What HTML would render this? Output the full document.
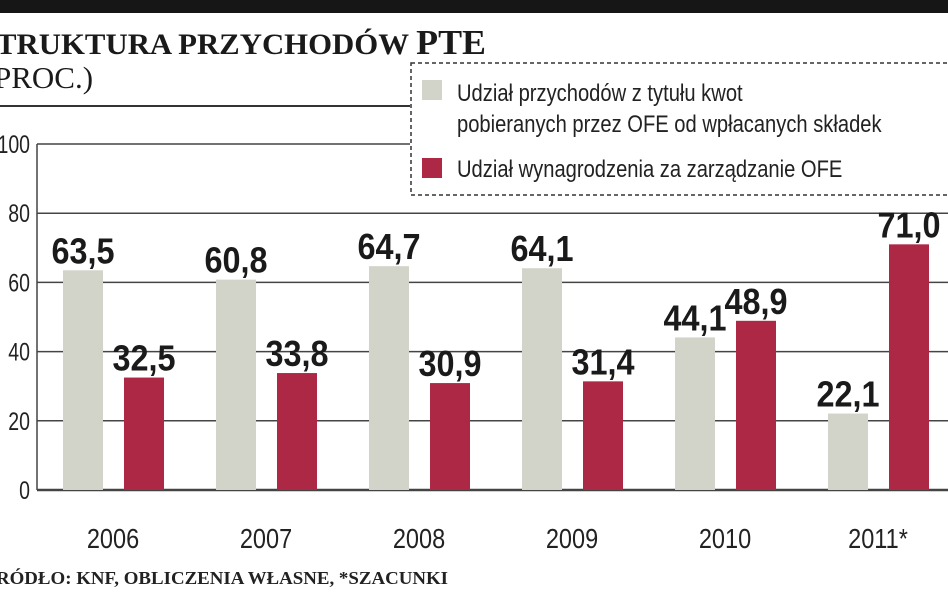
<!DOCTYPE html>
<html><head><meta charset="utf-8"><style>
body{margin:0;background:#fff;width:948px;height:593px;overflow:hidden;position:relative;font-family:"Liberation Sans",sans-serif}
</style></head><body>
<div style="position:absolute;left:0;top:0;width:948px;height:13px;background:#161616"></div>
<svg width="948" height="593" style="position:absolute;left:0;top:0" id="svg">
<text x="-4" y="54" font-family="Liberation Serif" font-weight="bold" font-size="30" fill="#1a1a1a" textLength="490" lengthAdjust="spacingAndGlyphs">TRUKTURA PRZYCHODÓW <tspan font-size="35">PTE</tspan></text>
<text x="-6" y="88" font-family="Liberation Serif" font-size="31" fill="#1a1a1a">PROC.)</text>
<line x1="0" y1="106" x2="410" y2="106" stroke="#333" stroke-width="2"/>
<g id="grid"></g><g id="bars"></g>
<rect x="411" y="63" width="545" height="132" fill="#fff" stroke="#333" stroke-width="1.5" stroke-dasharray="4,3"/>
<rect x="422" y="80" width="20" height="20" fill="#d3d4c9"/>
<text font-size="24" fill="#222" transform="translate(457,101) scale(0.84,1)"><tspan x="0" y="0">Udział przychodów z tytułu kwot</tspan><tspan x="0" y="31">pobieranych przez OFE od wpłacanych składek</tspan></text>
<rect x="422" y="158" width="20" height="20" fill="#ad2845"/>
<text font-size="24" fill="#222" transform="translate(457,177) scale(0.84,1)">Udział wynagrodzenia za zarządzanie OFE</text>
<text x="-4" y="584" font-family="Liberation Serif" font-weight="bold" font-size="18" fill="#222" textLength="452" lengthAdjust="spacingAndGlyphs">RÓDŁO: KNF, OBLICZENIA WŁASNE, *SZACUNKI</text>
</svg>
<script>
const categories=["2006","2007","2008","2009","2010","2011*"];
const feesShare=[63.5,60.8,64.7,64.1,44.1,22.1];
const mgmtShare=[32.5,33.8,30.9,31.4,48.9,71.0];
const yTicks=[0,20,40,60,80,100];
const NS="http://www.w3.org/2000/svg";
const y0=490,yTop=144,x0=37;
function y(v){return y0-(v/100)*(y0-yTop);}
function cx(i){return 113+i*153;}
function mk(tag,attrs,parent){const e=document.createElementNS(NS,tag);for(const k in attrs)e.setAttribute(k,attrs[k]);parent.appendChild(e);return e;}
const grid=document.getElementById('grid'),bars=document.getElementById('bars');
yTicks.forEach(t=>{
 const l=mk('line',{x1:x0,x2:t===100?410:948,y1:y(t),y2:y(t),stroke:'#444','stroke-width':t===0?2.5:1.5},grid);
 
 
 const tx=mk('text',{x:0,y:0,'text-anchor':'end','font-size':25,fill:'#222',transform:`translate(30,${y(t)+9}) scale(0.78,1)`},grid);
 tx.textContent=t;
 
 
});
mk('line',{x1:x0,x2:x0,y1:yTop,y2:y0,stroke:'#444','stroke-width':1.5},grid);
categories.forEach((c,i)=>{
 const g=mk('rect',{x:cx(i)-50,y:y(feesShare[i]),width:40,height:y0-y(feesShare[i]),fill:'#d3d4c9'},bars);
 
 
 const r=mk('rect',{x:cx(i)+11,y:y(mgmtShare[i]),width:40,height:y0-y(mgmtShare[i]),fill:'#ad2845'},bars);
 
 
 const l1=mk('text',{'text-anchor':'middle','font-size':36,'font-weight':'bold',fill:'#1a1a1a',transform:`translate(${cx(i)-30},${y(feesShare[i])-7}) scale(0.9,1)`},bars);
 l1.textContent=feesShare[i].toFixed(1).replace('.',',');
 
 
 const l2=mk('text',{'text-anchor':'middle','font-size':36,'font-weight':'bold',fill:'#1a1a1a',transform:`translate(${cx(i)+31},${y(mgmtShare[i])-7}) scale(0.9,1)`},bars);
 l2.textContent=mgmtShare[i].toFixed(1).replace('.',',');
 
 
 const xl=mk('text',{'text-anchor':'middle','font-size':28,fill:'#222',transform:`translate(${cx(i)},548) scale(0.84,1)`},bars);
 xl.textContent=c;
 
 
});
</script>
</body></html>
